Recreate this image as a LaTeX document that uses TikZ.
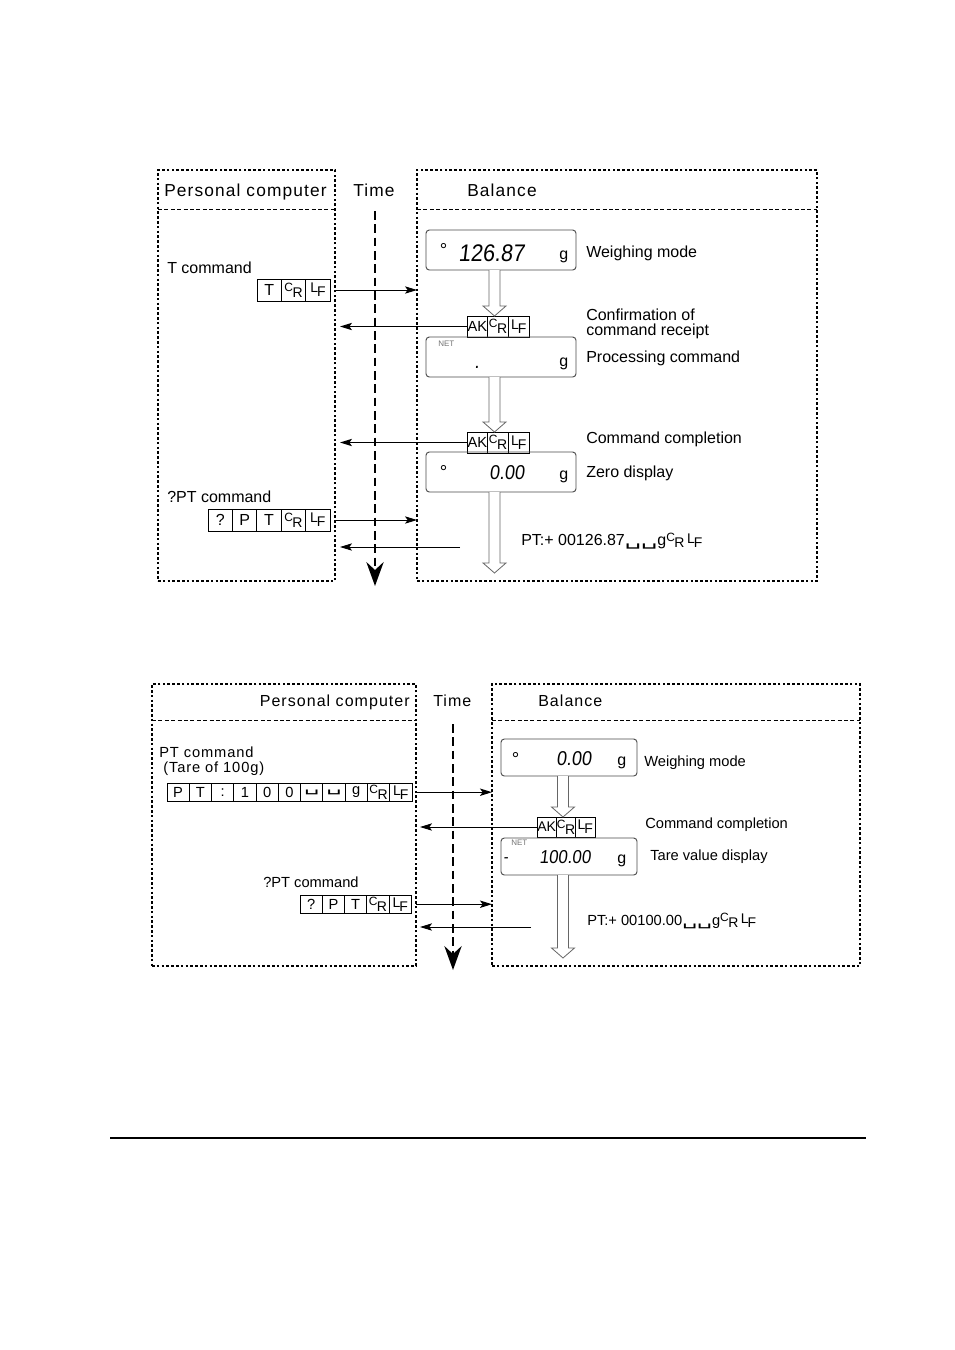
\documentclass[tikz,border=0pt]{standalone}
\usepackage{fontspec}
\setmainfont{Liberation Sans}
\newfontfamily\segfont[FakeSlant=0.12,FakeStretch=0.9]{Liberation Sans}
\newfontfamily\symfont{DejaVu Sans}
\newfontfamily\hdrfont[LetterSpace=6.5]{Liberation Sans}
\newfontfamily\lsfont[LetterSpace=6]{Liberation Sans}
\usetikzlibrary{arrows.meta,calc,fit}

\newcommand\fsz[1]{\fontsize{#1}{#1}\selectfont}
\newcommand\CRs{\raisebox{4.6pt}{\fsz{9}C}\kern-0.4pt{\fsz{10.5}R}}
\newcommand\LFs{\raisebox{3pt}{\fsz{10.5}L}\kern-0.8pt{\fsz{10.5}F}}
\newcommand\vsp{{\symfont\scalebox{1.6}[1]{␣}}}
\newcommand\hollowarr[2]{\draw[hollow] let \p1=#1, \p2=#2 in
  (\x1-4.1pt,\y1) -- (\x1-4.1pt,\y2+7.5pt) -- (\x1-8.6pt,\y2+7.5pt) -- (\x1,\y2)
  -- (\x1+8.6pt,\y2+7.5pt) -- (\x1+4.1pt,\y2+7.5pt) -- (\x1+4.1pt,\y1);}

\tikzset{
  frame/.style={draw, line width=1pt, dash pattern=on 2pt off 1.6pt, inner sep=0pt, outer sep=0pt},
  divider/.style={line width=0.7pt, dash pattern=on 3pt off 1.8pt},
  timeline/.style={line width=1.3pt, dash pattern=on 6.5pt off 3.5pt, -{Stealth[length=18pt,width=13pt,inset=6pt]}},
  msg/.style={line width=0.75pt, -{Stealth[length=9pt,width=5.5pt,inset=2pt]}},
  cellA/.style={draw, line width=0.6pt, minimum width=18.3pt, minimum height=16.5pt, inner sep=0pt, outer sep=0pt, font=\fsz{12}},
  cellB/.style={draw, line width=0.6pt, minimum width=16.7pt, minimum height=13.8pt, inner sep=0pt, outer sep=0pt, font=\fsz{11}},
  akA/.style={cellA, minimum width=15.5pt, minimum height=15.75pt, font=\fsz{11}},
  akB/.style={cellA, minimum width=14.5pt, minimum height=15pt, font=\fsz{10.5}},
  disp/.style={draw=black!70, line width=0.7pt, rounded corners=2.5pt, inner sep=0pt, outer sep=0pt},
  hollow/.style={draw=black!60, line width=0.6pt, fill=white},
  lab/.style={anchor=base west, inner sep=0pt, font=\fsz{12}},
  labB/.style={anchor=base west, inner sep=0pt, font=\fsz{11}},
  hdr/.style={anchor=base west, inner sep=0pt, font=\hdrfont\fsz{13}},
  hdrB/.style={anchor=base west, inner sep=0pt, font=\hdrfont\fsz{12}},
  seg/.style={anchor=base west, inner sep=0pt},
  unit/.style={anchor=base west, inner sep=0pt, font=\fsz{12}},
  net/.style={anchor=base west, inner sep=0pt, font=\fsz{6}, text=black!55},
}

\begin{document}
\begin{tikzpicture}[x=0.75pt,y=-0.75pt]
\useasboundingbox (0,0) rectangle (954,1350);
\fill[white] (0,0) rectangle (954,1350);

% ================= TOP DIAGRAM =================
\node[frame, fit={(158,170) (335,581)}] (pc1) {};
\node[frame, fit={(417,170) (817,581)}] (bal1) {};
\draw[divider] (pc1.west |- 0,209) -- (pc1.east |- 0,209);
\draw[divider] (bal1.west |- 0,209) -- (bal1.east |- 0,209);
\node[hdr] (h1) at (164,196) {Personal computer};
\node[hdr] (h2) at (353,196) {Time};
\node[hdr] (h3) at (467,196) {Balance};

\coordinate (tl1s) at (375,211);
\coordinate (tl1e) at (375,586);
\draw[timeline] (tl1s) -- (tl1e);

% PC side
\node[lab] (tcmd) at (167,273) {T command};
\node[cellA, anchor=north west] (t1) at (257,279) {T};
\node[cellA, anchor=west] (t2) at (t1.east) {\CRs};
\node[cellA, anchor=west] (t3) at (t2.east) {\LFs};

\node[lab] (qcmd) at (167,502) {?PT command};
\node[cellA, anchor=north west] (q1) at (208,509) {?};
\node[cellA, anchor=west] (q2) at (q1.east) {P};
\node[cellA, anchor=west] (q3) at (q2.east) {T};
\node[cellA, anchor=west] (q4) at (q3.east) {\CRs};
\node[cellA, anchor=west] (q5) at (q4.east) {\LFs};

% Balance side
\node[disp, fit={(426,230) (576,270)}] (d1) {};
\node[seg, font=\fsz{14}] (d1deg) at (439.5,256) {°};
\node[seg, font=\segfont\fsz{18}] (d1num) at (458,261) {126.87};
\node[unit] (d1g) at (559,259) {g};
\node[lab] (wm) at (586,257) {Weighing mode};

\node[akA, anchor=north west] (ak1a) at (467,316) {AK};
\node[akA, anchor=west] (ak1b) at (ak1a.east) {\CRs};
\node[akA, anchor=west] (ak1c) at (ak1b.east) {\LFs};
\node[lab] (cf1) at (586,320) {Confirmation of};
\node[lab] (cf2) at (586,335) {command receipt};

\node[disp, fit={(426,337) (576,377)}] (d2) {};
\node[net] (d2net) at (438,346) {NET};
\node[seg, font=\segfont\fsz{15}] (d2dot) at (474,368) {.};
\node[unit] (d2g) at (559,366) {g};
\node[lab] (proc) at (586,362) {Processing command};

\node[akA, anchor=north west] (ak2a) at (467,432) {AK};
\node[akA, anchor=west] (ak2b) at (ak2a.east) {\CRs};
\node[akA, anchor=west] (ak2c) at (ak2b.east) {\LFs};
\node[lab] (ccmp) at (586,443) {Command completion};

\node[disp, fit={(426,452) (576,492)}] (d3) {};
\node[seg, font=\fsz{14}] (d3deg) at (439.5,478) {°};
\node[seg, font=\segfont\fsz{15}] (d3num) at (489,479) {0.00};
\node[unit] (d3g) at (559,479) {g};
\node[lab] (zero) at (586,477) {Zero display};

\node[lab] (pt1) at (521,545) {PT:+ 00126.87\vsp\vsp g\raisebox{-2.2pt}{\CRs\,\LFs}};

\coordinate (ax1) at (494.5,0);
\coordinate (e1) at (494.5,573);
\hollowarr{(d1.south -| ax1)}{(ak1b.north -| ax1)}
\hollowarr{(d2.south -| ax1)}{(ak2b.north -| ax1)}
\hollowarr{(d3.south -| ax1)}{(e1)}

\draw[msg, shorten <=3.75pt] (t3.east) -- (t3.east -| bal1.west);
\draw[msg, shorten >=3.75pt] (ak1a.west) -- (ak1a.west -| pc1.east);
\draw[msg, shorten >=3.75pt] (ak2a.west) -- (ak2a.west -| pc1.east);
\draw[msg, shorten <=3.75pt] (q5.east) -- (q5.east -| bal1.west);
\coordinate (r1) at (460,547);
\draw[msg, shorten >=3.75pt] (r1) -- (r1 -| pc1.east);

% ================= BOTTOM DIAGRAM =================
\node[frame, fit={(152,684) (416,966)}] (pc2) {};
\node[frame, fit={(492,684) (860,966)}] (bal2) {};
\draw[divider] (pc2.west |- 0,720) -- (pc2.east |- 0,720);
\draw[divider] (bal2.west |- 0,720) -- (bal2.east |- 0,720);
\node[hdrB, anchor=base east] (h4) at (410,706) {Personal computer};
\node[hdrB] (h5) at (433,706) {Time};
\node[hdrB] (h6) at (538,706) {Balance};

\coordinate (tl2s) at (453,724);
\coordinate (tl2e) at (453,970);
\draw[timeline] (tl2s) -- (tl2e);

\node[labB, font=\lsfont\fsz{11}] (ptc) at (159,757) {PT command};
\node[labB, font=\lsfont\fsz{11}] (tare) at (163,772) {(Tare of 100g)};
\node[cellB, anchor=north west] (p1) at (167,783) {P};
\node[cellB, anchor=west] (p2) at (p1.east) {T};
\node[cellB, anchor=west] (p3) at (p2.east) {:};
\node[cellB, anchor=west] (p4) at (p3.east) {1};
\node[cellB, anchor=west] (p5) at (p4.east) {0};
\node[cellB, anchor=west] (p6) at (p5.east) {0};
\node[cellB, anchor=west] (p7) at (p6.east) {\vsp};
\node[cellB, anchor=west] (p8) at (p7.east) {\vsp};
\node[cellB, anchor=west] (p9) at (p8.east) {g};
\node[cellB, anchor=west] (p10) at (p9.east) {\CRs};
\node[cellB, anchor=west] (p11) at (p10.east) {\LFs};

\node[labB] (qcmd2) at (263,887) {?PT command};
\node[cellB, anchor=north west] (s1) at (300,895) {?};
\node[cellB, anchor=west] (s2) at (s1.east) {P};
\node[cellB, anchor=west] (s3) at (s2.east) {T};
\node[cellB, anchor=west] (s4) at (s3.east) {\CRs};
\node[cellB, anchor=west] (s5) at (s4.east) {\LFs};

\node[disp, fit={(501,739) (637,776)}] (dA) {};
\node[seg, font=\fsz{14}] (dAdeg) at (511.5,765) {°};
\node[seg, font=\segfont\fsz{15}] (dAnum) at (556,765) {0.00};
\node[unit] (dAg) at (617,765) {g};
\node[labB] (wm2) at (644,766) {Weighing mode};

\node[akB, anchor=north west] (akba) at (537,817) {AK};
\node[akB, anchor=west] (akbb) at (akba.east) {\CRs};
\node[akB, anchor=west] (akbc) at (akbb.east) {\LFs};
\node[labB] (ccmp2) at (645,828) {Command completion};

\node[disp, fit={(501,838) (637,875)}] (dB) {};
\node[net] (dBnet) at (511,845) {NET};
\node[seg, font=\segfont\fsz{12}] (dBminus) at (503,862) {-};
\node[seg, font=\segfont\fsz{14}] (dBnum) at (539,863) {100.00};
\node[unit] (dBg) at (617,863) {g};
\node[labB] (tvd) at (650,860) {Tare value display};

\node[labB] (pt2) at (587,925) {PT:+ 00100.00\vsp\vsp g\raisebox{-2pt}{\CRs\,\LFs}};

\coordinate (ax2) at (563,0);
\coordinate (e2) at (563,958);
\hollowarr{(dA.south -| ax2)}{(akbb.north -| ax2)}
\hollowarr{(dB.south -| ax2)}{(e2)}

\draw[msg, shorten <=3.75pt] (p11.east) -- (p11.east -| bal2.west);
\draw[msg, shorten >=3pt] (akba.west) -- (akba.west -| pc2.east);
\draw[msg, shorten <=3.75pt] (s5.east) -- (s5.east -| bal2.west);
\coordinate (r2) at (531,927);
\draw[msg, shorten >=3pt] (r2) -- (r2 -| pc2.east);

% bottom rule
\coordinate (rl) at (110,1138);
\coordinate (rr) at (866,1138);
\draw[line width=0.9pt] (rl) -- (rr);
\end{tikzpicture}
\end{document}
